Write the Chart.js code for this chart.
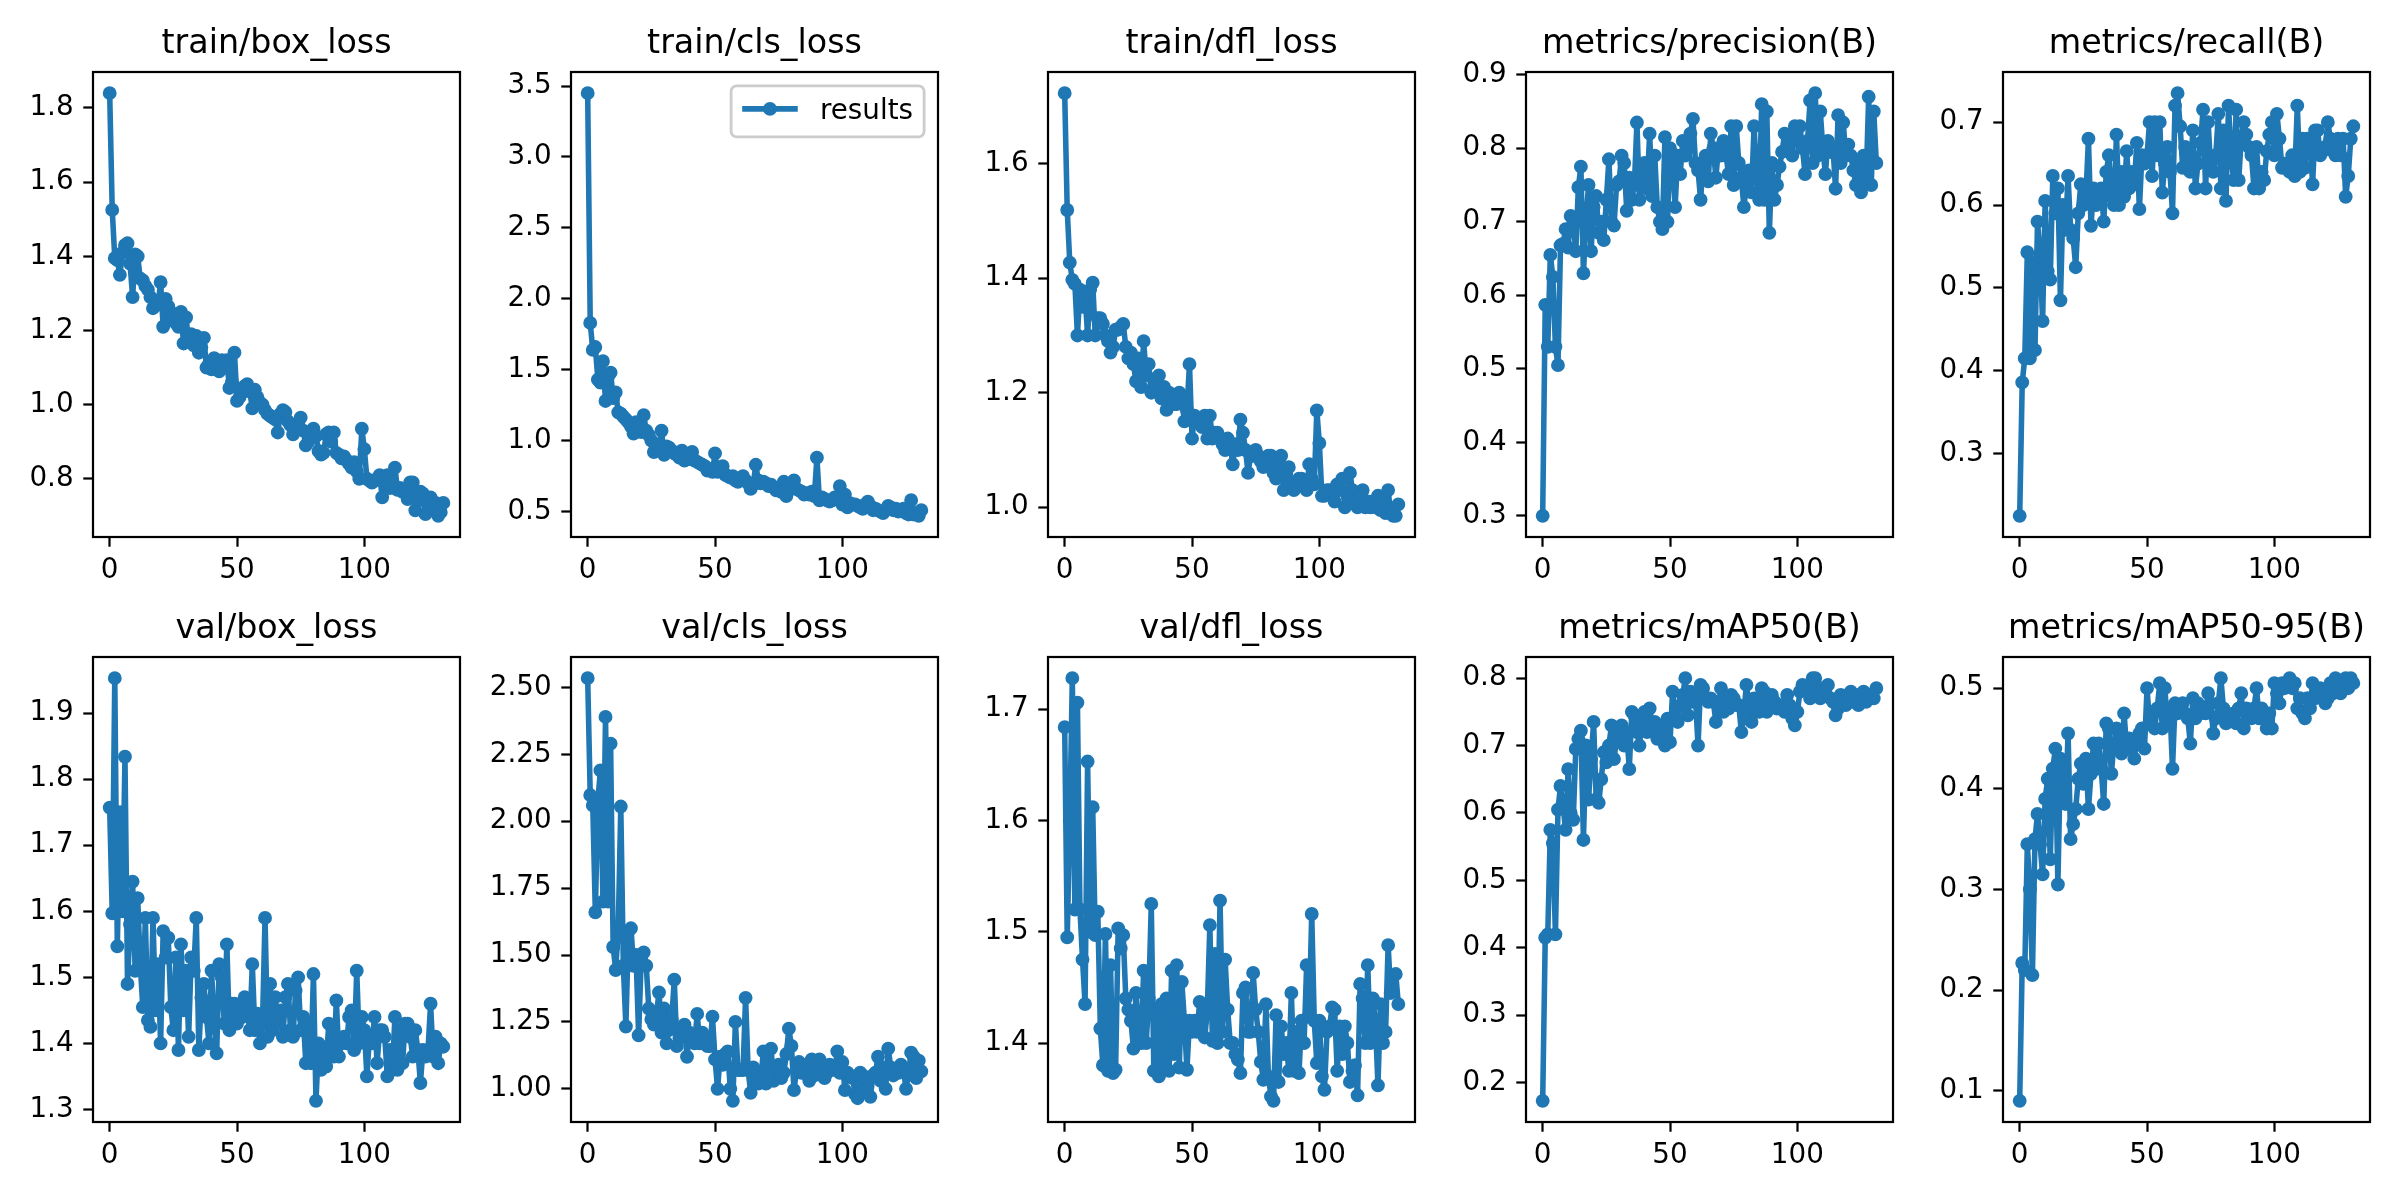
<!DOCTYPE html>
<html>
<head>
<meta charset="utf-8">
<title>results</title>
<script src="https://cdn.jsdelivr.net/npm/chart.js@4.4.1/dist/chart.umd.min.js"></script>
<style>
  html, body { margin: 0; padding: 0; background: #fff; }
  #figure { position: relative; width: 2400px; height: 1200px; overflow: hidden; background: #fff; }
  #figure canvas { position: absolute; }
</style>
</head>
<body>
<div id="figure"></div>
<script>
// epochs 0..131 (x categories)
const epochs = Array.from({ length: 132 }, (_, i) => i);
const xTicks = [0, 50, 100];

// values, one per epoch
const trainBoxLoss = [
  1.84, 1.525, 1.395, 1.39, 1.35, 1.41, 1.43, 1.435, 1.38, 1.29,
  1.405, 1.40, 1.34, 1.335, 1.32, 1.31, 1.29, 1.26, 1.28, 1.27,
  1.33, 1.21, 1.285, 1.265, 1.23, 1.245, 1.22, 1.21, 1.25, 1.165,
  1.235, 1.17, 1.19, 1.16, 1.185, 1.14, 1.155, 1.18, 1.10, 1.11,
  1.095, 1.125, 1.115, 1.09, 1.12, 1.10, 1.12, 1.045, 1.06, 1.14,
  1.01, 1.02, 1.04, 1.05, 1.055, 1.035, 0.99, 1.04, 1.02, 1.005,
  1.00, 0.985, 0.975, 0.97, 0.965, 0.96, 0.925, 0.975, 0.985, 0.98,
  0.955, 0.945, 0.92, 0.935, 0.95, 0.965, 0.93, 0.89, 0.90, 0.925,
  0.935, 0.915, 0.875, 0.865, 0.87, 0.92, 0.925, 0.90, 0.925, 0.87,
  0.865, 0.855, 0.86, 0.85, 0.84, 0.83, 0.845, 0.82, 0.80, 0.935,
  0.88, 0.80, 0.795, 0.79, 0.795, 0.80, 0.81, 0.75, 0.80, 0.81,
  0.775, 0.79, 0.83, 0.77, 0.775, 0.765, 0.77, 0.745, 0.79, 0.79,
  0.715, 0.74, 0.765, 0.76, 0.705, 0.745, 0.75, 0.725, 0.735, 0.70,
  0.71, 0.735
];
const trainClsLoss = [
  3.45, 1.83, 1.64, 1.66, 1.43, 1.41, 1.56, 1.28, 1.45, 1.48,
  1.30, 1.34, 1.20, 1.19, 1.17, 1.15, 1.13, 1.10, 1.05, 1.13,
  1.09, 1.06, 1.18, 1.07, 1.04, 1.00, 0.92, 0.95, 0.97, 1.07,
  0.90, 0.96, 0.95, 0.93, 0.91, 0.90, 0.88, 0.93, 0.86, 0.89,
  0.87, 0.92, 0.86, 0.85, 0.84, 0.83, 0.82, 0.79, 0.80, 0.78,
  0.91, 0.78, 0.79, 0.82, 0.76, 0.75, 0.74, 0.75, 0.72, 0.71,
  0.73, 0.75, 0.72, 0.70, 0.66, 0.69, 0.83, 0.72, 0.70, 0.71,
  0.70, 0.68, 0.69, 0.67, 0.65, 0.66, 0.64, 0.71, 0.61, 0.68,
  0.66, 0.72, 0.66, 0.65, 0.64, 0.62, 0.63, 0.62, 0.64, 0.61,
  0.88, 0.58, 0.60, 0.59, 0.58, 0.57, 0.58, 0.60, 0.59, 0.68,
  0.55, 0.62, 0.53, 0.56, 0.55, 0.55, 0.54, 0.53, 0.52, 0.55,
  0.57, 0.54, 0.51, 0.52, 0.51, 0.50, 0.49, 0.51, 0.54, 0.53,
  0.51, 0.52, 0.50, 0.51, 0.52, 0.49, 0.48, 0.58, 0.48, 0.49,
  0.47, 0.51
];
const trainDflLoss = [
  1.723, 1.519, 1.427, 1.397, 1.39, 1.30, 1.38, 1.35, 1.37, 1.30,
  1.38, 1.392, 1.30, 1.33, 1.33, 1.32, 1.30, 1.29, 1.27, 1.28,
  1.31, 1.31, 1.315, 1.32, 1.28, 1.26, 1.27, 1.25, 1.22, 1.26,
  1.21, 1.29, 1.23, 1.25, 1.20, 1.21, 1.22, 1.23, 1.19, 1.21,
  1.17, 1.20, 1.19, 1.18, 1.18, 1.20, 1.19, 1.15, 1.17, 1.25,
  1.12, 1.16, 1.15, 1.15, 1.14, 1.16, 1.12, 1.16, 1.12, 1.13,
  1.13, 1.12, 1.11, 1.10, 1.12, 1.11, 1.075, 1.11, 1.10, 1.153,
  1.13, 1.10, 1.06, 1.09, 1.09, 1.10, 1.09, 1.08, 1.07, 1.08,
  1.09, 1.09, 1.06, 1.05, 1.08, 1.09, 1.03, 1.06, 1.07, 1.04,
  1.03, 1.04, 1.05, 1.05, 1.04, 1.03, 1.075, 1.05, 1.04, 1.169,
  1.112, 1.02, 1.02, 1.03, 1.03, 1.02, 1.01, 1.04, 1.03, 1.05,
  1.00, 1.02, 1.06, 1.03, 1.01, 1.00, 1.01, 1.03, 1.00, 1.01,
  1.00, 1.01, 1.00, 1.02, 0.995, 1.01, 0.99, 1.03, 0.99, 0.985,
  0.985, 1.005
];
const precision = [
  0.30, 0.587, 0.53, 0.655, 0.625, 0.53, 0.505, 0.668, 0.67, 0.69,
  0.665, 0.708, 0.70, 0.66, 0.747, 0.775, 0.63, 0.70, 0.75, 0.66,
  0.72, 0.735, 0.685, 0.70, 0.675, 0.73, 0.785, 0.70, 0.695, 0.75,
  0.755, 0.79, 0.78, 0.715, 0.76, 0.73, 0.75, 0.835, 0.73, 0.76,
  0.78, 0.745, 0.82, 0.735, 0.79, 0.72, 0.70, 0.69, 0.815, 0.70,
  0.80, 0.78, 0.72, 0.79, 0.765, 0.81, 0.79, 0.80, 0.82, 0.84,
  0.78, 0.77, 0.73, 0.78, 0.79, 0.755, 0.82, 0.80, 0.76, 0.80,
  0.79, 0.81, 0.79, 0.765, 0.83, 0.75, 0.83, 0.78, 0.76, 0.72,
  0.75, 0.77, 0.74, 0.83, 0.76, 0.73, 0.86, 0.73, 0.85, 0.685,
  0.78, 0.73, 0.75, 0.775, 0.795, 0.82, 0.80, 0.815, 0.79, 0.83,
  0.81, 0.83, 0.80, 0.765, 0.81, 0.865, 0.78, 0.875, 0.79, 0.85,
  0.80, 0.765, 0.81, 0.795, 0.80, 0.745, 0.845, 0.78, 0.835, 0.79,
  0.805, 0.79, 0.77, 0.75, 0.78, 0.74, 0.79, 0.755, 0.87, 0.75,
  0.85, 0.78
];
const recall = [
  0.225, 0.386, 0.415, 0.543, 0.415, 0.53, 0.425, 0.58, 0.54, 0.46,
  0.605, 0.52, 0.51, 0.635, 0.59, 0.62, 0.485, 0.60, 0.57, 0.635,
  0.57, 0.56, 0.525, 0.59, 0.625, 0.60, 0.61, 0.68, 0.575, 0.62,
  0.60, 0.61, 0.62, 0.58, 0.64, 0.66, 0.61, 0.60, 0.685, 0.60,
  0.64, 0.61, 0.665, 0.62, 0.64, 0.625, 0.675, 0.595, 0.66, 0.65,
  0.66, 0.70, 0.635, 0.70, 0.66, 0.70, 0.615, 0.65, 0.67, 0.64,
  0.59, 0.72, 0.735, 0.695, 0.645, 0.67, 0.66, 0.64, 0.69, 0.62,
  0.65, 0.675, 0.715, 0.62, 0.70, 0.645, 0.64, 0.66, 0.71, 0.62,
  0.69, 0.605, 0.72, 0.66, 0.63, 0.715, 0.63, 0.68, 0.70, 0.685,
  0.67, 0.66, 0.62, 0.67, 0.62, 0.64, 0.63, 0.665, 0.685, 0.70,
  0.66, 0.71, 0.68, 0.645, 0.65, 0.645, 0.64, 0.66, 0.635, 0.72,
  0.64, 0.68, 0.645, 0.68, 0.68, 0.625, 0.69, 0.69, 0.66, 0.665,
  0.67, 0.70, 0.68, 0.665, 0.66, 0.68, 0.66, 0.68, 0.61, 0.635,
  0.68, 0.695
];
const valBoxLoss = [
  1.757, 1.597, 1.953, 1.547, 1.75, 1.60, 1.834, 1.49, 1.58, 1.645,
  1.51, 1.62, 1.52, 1.455, 1.59, 1.435, 1.425, 1.59, 1.45, 1.52,
  1.40, 1.57, 1.53, 1.56, 1.455, 1.42, 1.53, 1.39, 1.55, 1.45,
  1.51, 1.41, 1.53, 1.51, 1.59, 1.39, 1.47, 1.49, 1.44, 1.40,
  1.51, 1.43, 1.385, 1.52, 1.50, 1.43, 1.55, 1.42, 1.46, 1.46,
  1.43, 1.45, 1.44, 1.47, 1.45, 1.42, 1.52, 1.42, 1.445, 1.40,
  1.43, 1.59, 1.41, 1.49, 1.42, 1.47, 1.43, 1.45, 1.41, 1.47,
  1.49, 1.42, 1.41, 1.48, 1.50, 1.42, 1.44, 1.37, 1.43, 1.37,
  1.505, 1.313, 1.40, 1.36, 1.39, 1.365, 1.43, 1.40, 1.38, 1.465,
  1.38, 1.40, 1.41, 1.40, 1.44, 1.45, 1.39, 1.51, 1.40, 1.44,
  1.42, 1.35, 1.41, 1.40, 1.44, 1.37, 1.42, 1.42, 1.41, 1.35,
  1.39, 1.36, 1.44, 1.36, 1.42, 1.37, 1.43, 1.43, 1.41, 1.38,
  1.42, 1.39, 1.34, 1.39, 1.38, 1.39, 1.46, 1.38, 1.41, 1.37,
  1.40, 1.395
];
const valClsLoss = [
  2.535, 2.098, 2.06, 1.66, 2.08, 2.19, 1.70, 2.39, 1.70, 2.29,
  1.53, 1.444, 1.60, 2.055, 1.46, 1.233, 1.59, 1.60, 1.46, 1.50,
  1.20, 1.48, 1.51, 1.46, 1.30, 1.26, 1.24, 1.28, 1.36, 1.21,
  1.30, 1.17, 1.22, 1.26, 1.408, 1.16, 1.19, 1.22, 1.24, 1.12,
  1.21, 1.19, 1.17, 1.28, 1.17, 1.21, 1.19, 1.16, 1.16, 1.27,
  1.11, 1.00, 1.12, 1.09, 1.13, 1.14, 1.00, 0.955, 1.25, 1.07,
  1.07, 1.07, 1.34, 1.07, 0.985, 1.08, 1.06, 1.02, 1.04, 1.14,
  1.02, 1.09, 1.15, 1.03, 1.06, 1.09, 1.04, 1.06, 1.13, 1.225,
  1.16, 0.995, 1.07, 1.10, 1.06, 1.06, 1.09, 1.03, 1.11, 1.05,
  1.08, 1.11, 1.06, 1.04, 1.06, 1.09, 1.08, 1.07, 1.14, 1.06,
  1.10, 0.995, 1.06, 1.05, 1.04, 0.98, 0.965, 1.06, 1.05, 0.99,
  1.04, 0.97, 1.05, 1.06, 1.12, 1.03, 1.08, 1.00, 1.15, 1.08,
  1.05, 1.07, 1.06, 1.09, 1.07, 1.00, 1.06, 1.135, 1.12, 1.04,
  1.105, 1.065
];
const valDflLoss = [
  1.684, 1.495, 1.60, 1.728, 1.52, 1.706, 1.52, 1.475, 1.435, 1.653,
  1.50, 1.612, 1.497, 1.518, 1.413, 1.38, 1.498, 1.375, 1.47, 1.373,
  1.376, 1.503, 1.485, 1.497, 1.44, 1.43, 1.42, 1.395, 1.445, 1.41,
  1.40, 1.465, 1.40, 1.44, 1.525, 1.375, 1.43, 1.37, 1.435, 1.38,
  1.44, 1.375, 1.465, 1.39, 1.47, 1.378, 1.455, 1.42, 1.376, 1.42,
  1.41, 1.42, 1.41, 1.437, 1.42, 1.405, 1.43, 1.506, 1.402, 1.48,
  1.40, 1.528, 1.41, 1.475, 1.43, 1.40, 1.40, 1.39, 1.385, 1.373,
  1.445, 1.45, 1.41, 1.41, 1.463, 1.43, 1.41, 1.383, 1.367, 1.435,
  1.37, 1.352, 1.348, 1.425, 1.365, 1.415, 1.39, 1.40, 1.375, 1.445,
  1.375, 1.41, 1.373, 1.42, 1.40, 1.47, 1.425, 1.516, 1.42, 1.382,
  1.42, 1.37, 1.358, 1.41, 1.415, 1.432, 1.43, 1.375, 1.415, 1.39,
  1.415, 1.40, 1.365, 1.375, 1.38, 1.353, 1.453, 1.44, 1.40, 1.47,
  1.40, 1.44, 1.42, 1.362, 1.435, 1.40, 1.41, 1.488, 1.445, 1.46,
  1.462, 1.435
];
const mAP50 = [
  0.173, 0.415, 0.42, 0.575, 0.555, 0.42, 0.605, 0.64, 0.61, 0.575,
  0.665, 0.60, 0.59, 0.695, 0.71, 0.722, 0.56, 0.70, 0.62, 0.68,
  0.735, 0.62, 0.615, 0.65, 0.69, 0.675, 0.70, 0.73, 0.68, 0.71,
  0.725, 0.73, 0.70, 0.72, 0.665, 0.75, 0.745, 0.72, 0.70, 0.74,
  0.75, 0.72, 0.755, 0.73, 0.735, 0.71, 0.72, 0.73, 0.70, 0.74,
  0.705, 0.78, 0.74, 0.735, 0.76, 0.775, 0.80, 0.745, 0.78, 0.765,
  0.77, 0.70, 0.79, 0.785, 0.77, 0.765, 0.77, 0.765, 0.735, 0.76,
  0.785, 0.75, 0.77, 0.755, 0.775, 0.77, 0.76, 0.76, 0.72, 0.75,
  0.79, 0.76, 0.735, 0.77, 0.76, 0.75, 0.785, 0.78, 0.75, 0.76,
  0.775, 0.765, 0.755, 0.76, 0.755, 0.75, 0.775, 0.76, 0.74, 0.73,
  0.75, 0.78, 0.79, 0.785, 0.78, 0.77, 0.80, 0.80, 0.775, 0.77,
  0.785, 0.78, 0.79, 0.77, 0.765, 0.745, 0.755, 0.775, 0.765, 0.76,
  0.775, 0.78, 0.765, 0.775, 0.76, 0.765, 0.78, 0.765, 0.77, 0.775,
  0.77, 0.785
];
const mAP5095 = [
  0.09, 0.227, 0.22, 0.345, 0.30, 0.215, 0.35, 0.375, 0.345, 0.315,
  0.39, 0.41, 0.33, 0.42, 0.44, 0.305, 0.43, 0.42, 0.385, 0.455,
  0.35, 0.365, 0.38, 0.41, 0.425, 0.405, 0.43, 0.38, 0.415, 0.445,
  0.42, 0.445, 0.42, 0.385, 0.465, 0.46, 0.415, 0.445, 0.46, 0.455,
  0.435, 0.475, 0.44, 0.45, 0.445, 0.43, 0.45, 0.455, 0.46, 0.44,
  0.50, 0.465, 0.475, 0.46, 0.48, 0.505, 0.46, 0.50, 0.465, 0.48,
  0.42, 0.485, 0.475, 0.48, 0.485, 0.475, 0.47, 0.445, 0.49, 0.47,
  0.485, 0.475, 0.48, 0.475, 0.495, 0.485, 0.455, 0.47, 0.485, 0.51,
  0.48, 0.465, 0.47, 0.47, 0.475, 0.465, 0.48, 0.495, 0.46, 0.48,
  0.475, 0.47, 0.48, 0.50, 0.47, 0.48, 0.475, 0.46, 0.475, 0.46,
  0.505, 0.495, 0.485, 0.505, 0.50, 0.505, 0.51, 0.50, 0.505, 0.48,
  0.49, 0.475, 0.47, 0.49, 0.48, 0.505, 0.49, 0.495, 0.50, 0.495,
  0.485, 0.49, 0.505, 0.495, 0.51, 0.50, 0.495, 0.505, 0.51, 0.50,
  0.51, 0.505
];

// y tick values and their labels, per panel
const trainBoxTicks = [0.8, 1.0, 1.2, 1.4, 1.6, 1.8];
const trainBoxLabels = ['0.8', '1.0', '1.2', '1.4', '1.6', '1.8'];
const trainClsTicks = [0.5, 1.0, 1.5, 2.0, 2.5, 3.0, 3.5];
const trainClsLabels = ['0.5', '1.0', '1.5', '2.0', '2.5', '3.0', '3.5'];
const trainDflTicks = [1.0, 1.2, 1.4, 1.6];
const trainDflLabels = ['1.0', '1.2', '1.4', '1.6'];
const precisionTicks = [0.3, 0.4, 0.5, 0.6, 0.7, 0.8, 0.9];
const precisionLabels = ['0.3', '0.4', '0.5', '0.6', '0.7', '0.8', '0.9'];
const recallTicks = [0.3, 0.4, 0.5, 0.6, 0.7];
const recallLabels = ['0.3', '0.4', '0.5', '0.6', '0.7'];
const valBoxTicks = [1.3, 1.4, 1.5, 1.6, 1.7, 1.8, 1.9];
const valBoxLabels = ['1.3', '1.4', '1.5', '1.6', '1.7', '1.8', '1.9'];
const valClsTicks = [1.0, 1.25, 1.5, 1.75, 2.0, 2.25, 2.5];
const valClsLabels = ['1.00', '1.25', '1.50', '1.75', '2.00', '2.25', '2.50'];
const valDflTicks = [1.4, 1.5, 1.6, 1.7];
const valDflLabels = ['1.4', '1.5', '1.6', '1.7'];
const mAP50Ticks = [0.2, 0.3, 0.4, 0.5, 0.6, 0.7, 0.8];
const mAP50Labels = ['0.2', '0.3', '0.4', '0.5', '0.6', '0.7', '0.8'];
const mAP5095Ticks = [0.1, 0.2, 0.3, 0.4, 0.5];
const mAP5095Labels = ['0.1', '0.2', '0.3', '0.4', '0.5'];

const panels = [
  { title: 'train/box_loss', values: trainBoxLoss, ticks: trainBoxTicks, labels: trainBoxLabels },
  { title: 'train/cls_loss', values: trainClsLoss, ticks: trainClsTicks, labels: trainClsLabels, legend: true },
  { title: 'train/dfl_loss', values: trainDflLoss, ticks: trainDflTicks, labels: trainDflLabels },
  { title: 'metrics/precision(B)', values: precision, ticks: precisionTicks, labels: precisionLabels },
  { title: 'metrics/recall(B)', values: recall, ticks: recallTicks, labels: recallLabels },
  { title: 'val/box_loss', values: valBoxLoss, ticks: valBoxTicks, labels: valBoxLabels },
  { title: 'val/cls_loss', values: valClsLoss, ticks: valClsTicks, labels: valClsLabels },
  { title: 'val/dfl_loss', values: valDflLoss, ticks: valDflTicks, labels: valDflLabels },
  { title: 'metrics/mAP50(B)', values: mAP50, ticks: mAP50Ticks, labels: mAP50Labels },
  { title: 'metrics/mAP50-95(B)', values: mAP5095, ticks: mAP5095Ticks, labels: mAP5095Labels }
];

// figure geometry (px) - matplotlib 12x6 in at 200 dpi
const PT = 200 / 72;
const FONT = 'DejaVu Sans';
const BLUE = '#1f77b4';
const AX_LEFT = [93, 571, 1048, 1526, 2003];
const AX_TOP = [72, 657];
const AX_W = 367, AX_H = 465;
const PAD_L = 100, PAD_T = 60, PAD_R = 12, PAD_B = 55;

// spines drawn on top of the line, like matplotlib
const framePlugin = {
  id: 'frame',
  afterDatasetsDraw(chart) {
    const { ctx, chartArea: a } = chart;
    ctx.save();
    ctx.strokeStyle = '#000';
    ctx.lineWidth = 0.8 * PT;
    ctx.strokeRect(a.left, a.top, a.right - a.left, a.bottom - a.top);
    ctx.restore();
  }
};

// matplotlib style legend box (upper right) with line + dot handle
const resultsLegend = {
  id: 'resultsLegend',
  afterDraw(chart, args, opts) {
    if (!opts.show) return;
    const { ctx, chartArea: a } = chart;
    const ds = chart.data.datasets[0];
    const fs = 10 * PT;
    ctx.save();
    ctx.font = fs + 'px "' + FONT + '"';
    const textW = ctx.measureText(ds.label).width;
    const w = 0.4 * fs + 2 * fs + 0.8 * fs + textW + 0.4 * fs;
    const h = 51;
    const x0 = a.right - 0.5 * fs - w;
    const y0 = a.top + 0.5 * fs;
    const r = 0.2 * fs;
    ctx.beginPath();
    ctx.moveTo(x0 + r, y0);
    ctx.lineTo(x0 + w - r, y0);
    ctx.arcTo(x0 + w, y0, x0 + w, y0 + r, r);
    ctx.lineTo(x0 + w, y0 + h - r);
    ctx.arcTo(x0 + w, y0 + h, x0 + w - r, y0 + h, r);
    ctx.lineTo(x0 + r, y0 + h);
    ctx.arcTo(x0, y0 + h, x0, y0 + h - r, r);
    ctx.lineTo(x0, y0 + r);
    ctx.arcTo(x0, y0, x0 + r, y0, r);
    ctx.closePath();
    ctx.fillStyle = 'rgba(255,255,255,0.8)';
    ctx.fill();
    ctx.strokeStyle = '#cccccc';
    ctx.lineWidth = 1 * PT;
    ctx.stroke();

    const hx = x0 + 0.4 * fs, hy = y0 + 23;
    ctx.strokeStyle = ds.borderColor;
    ctx.lineWidth = ds.borderWidth;
    ctx.lineCap = 'butt';
    ctx.beginPath();
    ctx.moveTo(hx, hy);
    ctx.lineTo(hx + 2 * fs, hy);
    ctx.stroke();
    ctx.beginPath();
    ctx.arc(hx + fs, hy, ds.pointRadius, 0, Math.PI * 2);
    ctx.fillStyle = ds.borderColor;
    ctx.fill();
    ctx.lineWidth = ds.pointBorderWidth;
    ctx.stroke();

    ctx.fillStyle = '#000';
    ctx.textBaseline = 'alphabetic';
    ctx.textAlign = 'left';
    ctx.fillText(ds.label, hx + 2.8 * fs, y0 + 33);
    ctx.restore();
  }
};

const fig = document.getElementById('figure');
const xLo = epochs[0], xHi = epochs[epochs.length - 1];
const xPad = (xHi - xLo) * 0.05;

panels.forEach((p, i) => {
  const row = Math.floor(i / 5), col = i % 5;
  const canvas = document.createElement('canvas');
  canvas.width = PAD_L + AX_W + PAD_R;
  canvas.height = PAD_T + AX_H + PAD_B;
  canvas.style.left = (AX_LEFT[col] - PAD_L) + 'px';
  canvas.style.top = (AX_TOP[row] - PAD_T) + 'px';
  canvas.style.width = canvas.width + 'px';
  canvas.style.height = canvas.height + 'px';
  fig.appendChild(canvas);

  const lo = Math.min(...p.values), hi = Math.max(...p.values);
  const yPad = (hi - lo) * 0.05;
  const tickFont = { family: FONT, size: 10 * PT };
  const tickGrid = {
    display: true,
    drawOnChartArea: false,
    drawTicks: true,
    tickLength: 3.5 * PT,
    tickWidth: 0.8 * PT,
    tickColor: '#000'
  };

  new Chart(canvas, {
    type: 'line',
    data: {
      labels: epochs,
      datasets: [{
        label: 'results',
        data: p.values,
        borderColor: BLUE,
        backgroundColor: BLUE,
        pointBackgroundColor: BLUE,
        pointBorderColor: BLUE,
        borderWidth: 2 * PT,
        pointRadius: 2 * PT,
        pointBorderWidth: 1 * PT,
        borderJoinStyle: 'round',
        tension: 0,
        fill: false
      }]
    },
    options: {
      responsive: false,
      animation: false,
      devicePixelRatio: 1,
      events: [],
      layout: { padding: { left: 0, top: 0, right: PAD_R, bottom: 0 } },
      plugins: {
        legend: { display: false },
        tooltip: { enabled: false },
        title: {
          display: true,
          text: p.title,
          fullSize: false,
          color: '#000',
          font: { family: FONT, size: 12 * PT, weight: 'normal', lineHeight: 1.2 },
          padding: { top: 12, bottom: 8 }
        },
        resultsLegend: { show: !!p.legend }
      },
      scales: {
        x: {
          type: 'linear',
          min: xLo - xPad,
          max: xHi + xPad,
          afterBuildTicks: (s) => { s.ticks = xTicks.map(v => ({ value: v })); },
          afterFit: (s) => { s.height = PAD_B; },
          grid: tickGrid,
          border: { display: false },
          ticks: { font: tickFont, color: '#000', padding: 7, autoSkip: false, maxRotation: 0, callback: (v) => String(v) }
        },
        y: {
          type: 'linear',
          min: lo - yPad,
          max: hi + yPad,
          afterBuildTicks: (s) => { s.ticks = p.ticks.map(v => ({ value: v })); },
          afterFit: (s) => { s.width = PAD_L; },
          grid: tickGrid,
          border: { display: false },
          ticks: { font: tickFont, color: '#000', padding: 3.5 * PT, autoSkip: false, callback: (v, idx) => p.labels[idx] }
        }
      }
    },
    plugins: [framePlugin, resultsLegend]
  });
});
</script>
</body>
</html>
